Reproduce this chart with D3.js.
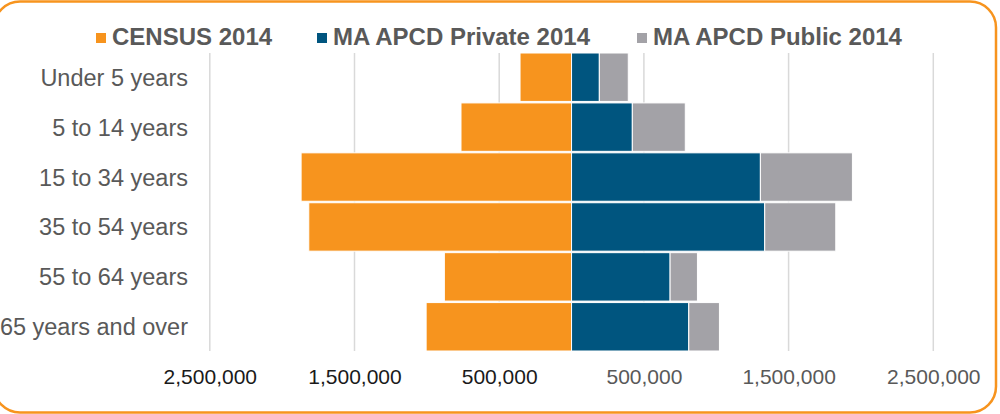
<!DOCTYPE html>
<html>
<head>
<meta charset="utf-8">
<title>Population pyramid</title>
<style>
  body { margin: 0; background: #fff; }
  svg { display: block; font-family: "Liberation Sans", Arial, sans-serif; }
  .grid line { stroke: #d9d9d9; stroke-width: 1.5; }
  .cat { fill: #595959; font-size: 23.5px; }
  .legend text { fill: #595959; font-size: 24px; font-weight: bold; }
</style>
<script src="https://d3js.org/d3.v7.min.js"></script>
</head>
<body>
<svg width="1000" height="414"></svg>
<script>
// data
var categories = ["Under 5 years", "5 to 14 years", "15 to 34 years", "35 to 54 years", "55 to 64 years", "65 years and over"];
var census  = [356000, 764000, 1869000, 1816000, 879000, 1005000];
var privat  = [192000, 420000, 1305000, 1335000, 681000, 810000];
var publik  = [200000, 366000, 636000, 491000, 189000, 212000];
var seriesNames = ["CENSUS 2014", "MA APCD Private 2014", "MA APCD Public 2014"];
var tickValues = [-2500000, -1500000, -500000, 500000, 1500000, 2500000];

var colors = ["#f7941e", "#00557f", "#a3a2a7"];

var svg = d3.select("svg");

// outer rounded frame
svg.append("rect")
    .attr("x", -6).attr("y", 1.5)
    .attr("width", 1002).attr("height", 411)
    .attr("rx", 26).attr("ry", 26)
    .attr("fill", "none")
    .attr("stroke", "#f7941e")
    .attr("stroke-width", 2.5);

var x = d3.scaleLinear().domain([-2500000, 2500000]).range([209.8, 933.3]);
var y = d3.scaleBand().domain(categories).range([53, 351]).paddingInner(0.03).paddingOuter(0.0);

// gridlines
svg.append("g").attr("class", "grid")
  .selectAll("line").data(tickValues).enter().append("line")
    .attr("x1", function(d) { return x(d); })
    .attr("x2", function(d) { return x(d); })
    .attr("y1", 53).attr("y2", 351);

// stacked right side
var rows = categories.map(function(c, i) { return { cat: c, priv: privat[i], pub: publik[i] }; });
var stack = d3.stack().keys(["priv", "pub"])(rows);

// census on the left
svg.append("g").selectAll("rect").data(categories).enter().append("rect")
    .attr("x", function(d, i) { return x(-census[i]); })
    .attr("y", function(d) { return y(d); })
    .attr("width", function(d, i) { return x(0) - x(-census[i]); })
    .attr("height", y.bandwidth())
    .attr("fill", colors[0])
    .attr("stroke", "#fff").attr("stroke-width", 1);

svg.append("g").selectAll("g").data(stack).enter().append("g")
    .attr("fill", function(d, i) { return colors[i + 1]; })
  .selectAll("rect").data(function(d) { return d; }).enter().append("rect")
    .attr("x", function(d) { return x(d[0]); })
    .attr("y", function(d) { return y(d.data.cat); })
    .attr("width", function(d) { return x(d[1]) - x(d[0]); })
    .attr("height", y.bandwidth())
    .attr("stroke", "#fff").attr("stroke-width", 1);

// category labels
svg.append("g").selectAll("text").data(categories).enter().append("text")
    .attr("class", "cat")
    .attr("x", 188)
    .attr("y", function(d) { return y(d) + y.bandwidth() / 2; })
    .attr("dy", "0.36em")
    .attr("text-anchor", "end")
    .text(function(d) { return d; });

// x axis labels
var xAxis = d3.axisBottom(x).tickValues(tickValues).tickSize(0).tickPadding(0)
    .tickFormat(function(d) { return d3.format(",")(Math.abs(d)); });
var ax = svg.append("g").attr("transform", "translate(0,369)").call(xAxis);
ax.select(".domain").remove();
ax.selectAll("text")
    .attr("dy", "0.71em")
    .style("font-family", "'Liberation Sans', Arial, sans-serif")
    .style("font-size", "21px")
    .attr("fill", function(d) { return d < 0 ? "#1a1a1a" : "#595959"; });

// legend
var legendX = [96, 317, 637];
var lg = svg.append("g").attr("class", "legend");
seriesNames.forEach(function(name, i) {
  lg.append("rect")
      .attr("x", legendX[i]).attr("y", 33)
      .attr("width", 10).attr("height", 10)
      .attr("fill", colors[i]);
  lg.append("text")
      .attr("x", legendX[i] + 16).attr("y", 45)
      .text(name);
});
</script>
</body>
</html>
